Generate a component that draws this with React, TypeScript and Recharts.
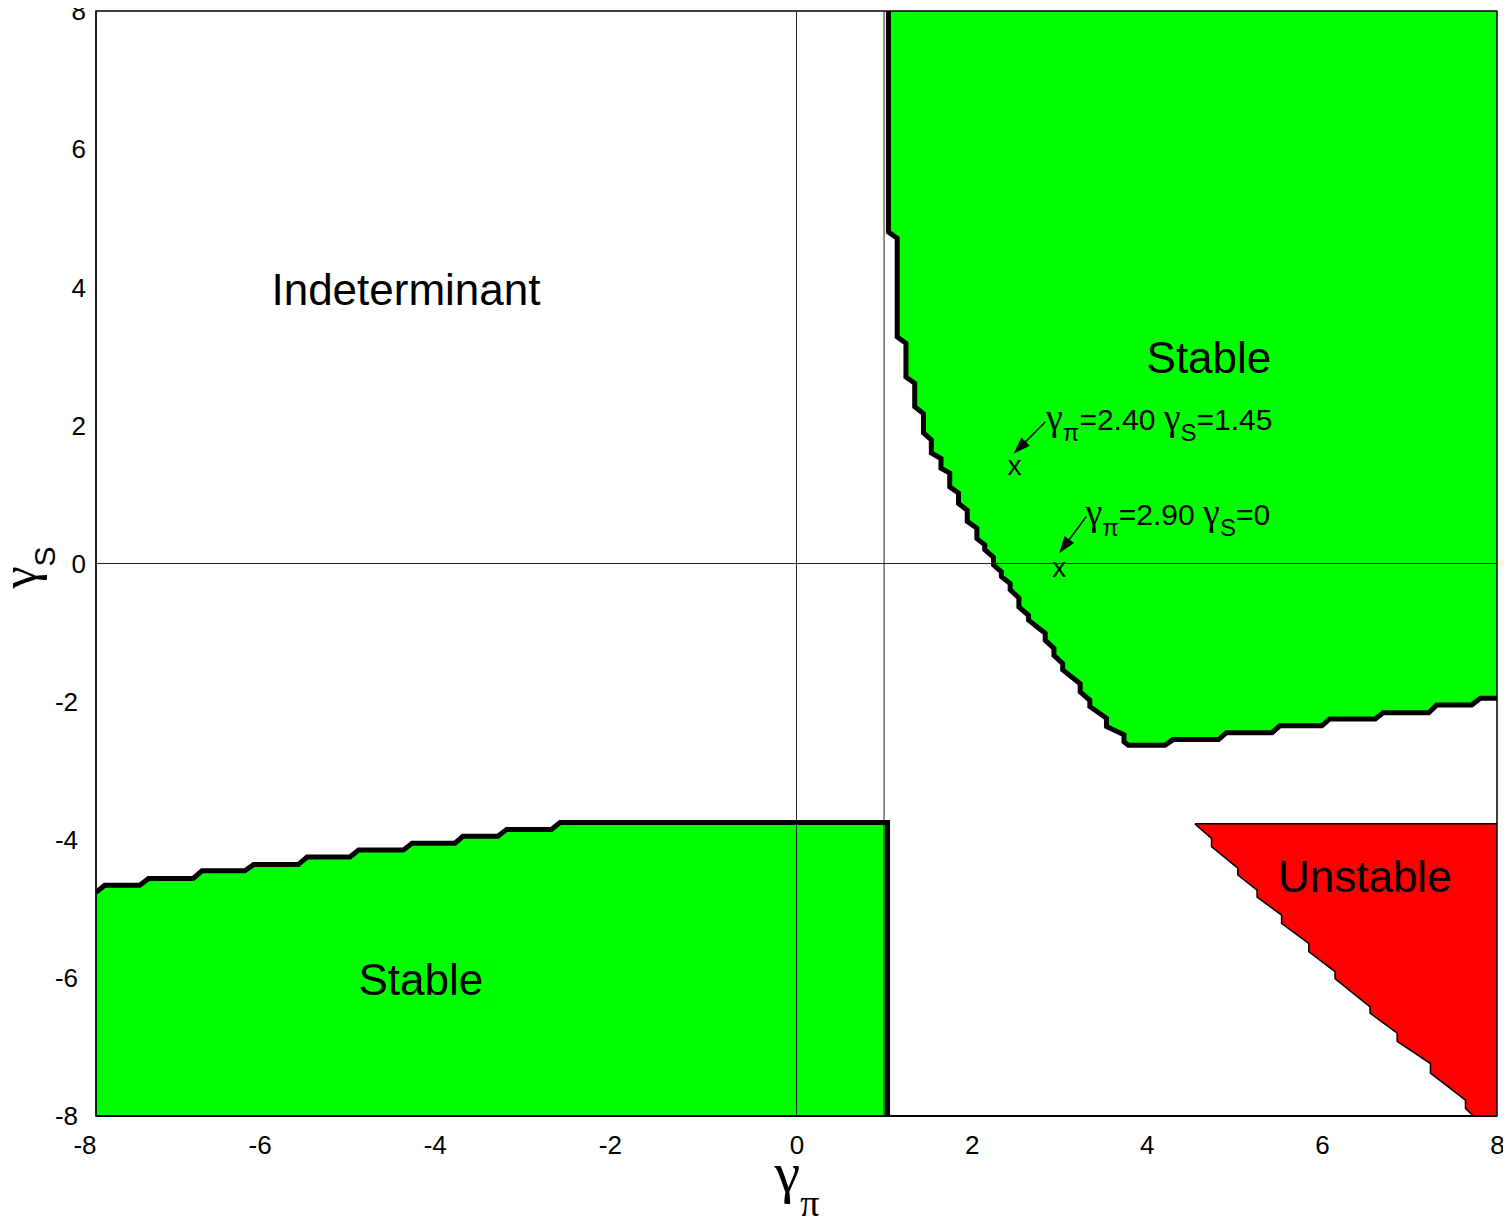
import React from "react";
import {
    ComposedChart,
    Area,
    Line,
    XAxis,
    YAxis,
    ReferenceLine,
    ReferenceDot,
    ReferenceArea
} from "recharts";

const axisTicks = [-8, -6, -4, -2, 0, 2, 4, 6, 8];

// upper right stable region: left / lower edge, [gamma_pi, gamma_S]
const upperStableEdge = [
    [1.05, 8], [1.05, 4.80], [1.15, 4.71], [1.15, 3.28], [1.25, 3.19], [1.25, 2.70],
    [1.35, 2.61], [1.35, 2.27], [1.45, 2.17], [1.45, 1.89], [1.54, 1.79], [1.54, 1.60],
    [1.65, 1.52], [1.65, 1.38], [1.75, 1.31], [1.75, 1.11], [1.85, 1.02], [1.85, 0.87],
    [1.95, 0.77], [1.95, 0.61], [2.06, 0.51], [2.06, 0.36], [2.15, 0.27], [2.15, 0.20],
    [2.25, 0.09], [2.25, -0.02], [2.34, -0.12], [2.34, -0.19], [2.44, -0.29], [2.44, -0.38],
    [2.54, -0.50], [2.54, -0.63], [2.65, -0.75], [2.65, -0.82], [2.84, -1.01], [2.84, -1.11],
    [2.94, -1.23], [2.94, -1.33], [3.04, -1.45], [3.04, -1.54], [3.24, -1.74], [3.24, -1.86],
    [3.35, -1.98], [3.35, -2.07], [3.54, -2.24], [3.54, -2.36], [3.74, -2.48], [3.74, -2.58],
    [3.79, -2.63], [4.21, -2.63], [4.30, -2.55], [4.82, -2.55], [4.91, -2.45], [5.43, -2.45],
    [5.52, -2.35], [6.00, -2.35], [6.09, -2.25], [6.61, -2.25], [6.70, -2.16], [7.22, -2.16],
    [7.31, -2.05], [7.71, -2.05], [7.81, -1.95], [8, -1.95]
];
const upperStableTop = 8;

// lower left stable region: upper edge
const lowerStableEdge = [
    [-8, -4.76], [-7.90, -4.66], [-7.50, -4.66], [-7.40, -4.56], [-6.89, -4.56], [-6.79, -4.45],
    [-6.30, -4.45], [-6.20, -4.36], [-5.69, -4.36], [-5.59, -4.25], [-5.10, -4.25], [-5.00, -4.15],
    [-4.49, -4.15], [-4.39, -4.05], [-3.90, -4.05], [-3.81, -3.95], [-3.41, -3.95], [-3.31, -3.85],
    [-2.80, -3.85], [-2.70, -3.75], [1.04, -3.75]
];
const lowerStableBottom = -8;

// unstable region: lower edge
const unstableEdge = [
    [4.55, -3.77], [4.74, -3.98], [4.74, -4.10], [5.04, -4.41], [5.04, -4.51], [5.26, -4.73],
    [5.26, -4.83], [5.54, -5.09], [5.54, -5.21], [5.85, -5.50], [5.85, -5.62], [6.15, -5.91],
    [6.15, -6.01], [6.55, -6.42], [6.55, -6.51], [6.86, -6.80], [6.86, -6.92], [7.24, -7.24],
    [7.24, -7.38], [7.64, -7.77], [7.64, -7.89], [7.73, -8], [8, -8]
];
const unstableTop = -3.77;

const guideX = [0, 1];
const guideY = [0];

const regionLabels = [
    {text: "Indeterminant", x: -4.46, y: 3.97},
    {text: "Stable", x: 4.71, y: 2.99},
    {text: "Stable", x: -4.29, y: -6.02},
    {text: "Unstable", x: 6.49, y: -4.53}
];

const pointMarks = [
    {x: 2.49, y: 1.42},
    {x: 3.0, y: -0.06}
];

const pointNotes = [
    {x: 2.85, y: 1.93, pi: "2.40", s: "1.45"},
    {x: 3.30, y: 0.56, pi: "2.90", s: "0"}
];

const noteArrows = [
    {x1: 2.84, y1: 2.05, x2: 2.48, y2: 1.59},
    {x1: 3.31, y1: 0.68, x2: 3.00, y2: 0.15}
];

const SANS = "'Liberation Sans', Arial, Helvetica, sans-serif";
const SERIF = "'Liberation Serif', 'Times New Roman', serif";

const rangeData = (edge: number[][], other: number) =>
    edge.map(([x, y]) => ({x, y, range: y < other ? [y, other] : [other, y]}));

const lineData = (edge: number[][]) => edge.map(([x, y]) => ({x, y}));

const Arrow = (props: any) => {
    const {x1, y1, x2, y2} = props;
    const dx = x2 - x1;
    const dy = y2 - y1;
    const len = Math.sqrt(dx * dx + dy * dy) || 1;
    const ux = dx / len;
    const uy = dy / len;
    const head = 17;
    const half = 6;
    const bx = x2 - ux * head;
    const by = y2 - uy * head;
    return (
        <g>
            <line x1={x1} y1={y1} x2={bx} y2={by} stroke="#000" strokeWidth={1.5}/>
            <polygon
                points={`${x2},${y2} ${bx - uy * half},${by + ux * half} ${bx + uy * half},${by - ux * half}`}
                fill="#000"
            />
        </g>
    );
};

// positive labels centred on the tick, negative ones end at the tick
const XTick = (props: any) => {
    const {x, y, payload} = props;
    const neg = payload.value < 0;
    return (
        <text x={x + 0.5} y={y} dy="0.72em" textAnchor={neg ? "end" : "middle"} fontSize={26}
              fontFamily={SANS} fill="#000">
            {payload.value}
        </text>
    );
};

const YTick = (props: any) => {
    const {x, y, payload} = props;
    return (
        <text x={x - (payload.value < 0 ? 8 : 0)} y={y} dy="0.36em" textAnchor="end" fontSize={26}
              fontFamily={SANS} fill="#000">
            {payload.value}
        </text>
    );
};

const XTitle = (props: any) => {
    const {viewBox} = props;
    const cx = viewBox.x + viewBox.width / 2;
    return (
        <text x={cx - 22} y={viewBox.y + 76} fill="#000">
            <tspan fontFamily={SERIF} fontSize={58}>γ</tspan>
            <tspan fontFamily={SERIF} fontSize={38} dy={24}>π</tspan>
        </text>
    );
};

const YTitle = (props: any) => {
    const {viewBox} = props;
    const cy = viewBox.y + viewBox.height / 2 + 4;
    const cx = 28;
    return (
        <text x={cx} y={cy} transform={`rotate(-90, ${cx}, ${cy})`} textAnchor="middle" fill="#000">
            <tspan fontFamily={SERIF} fontSize={50}>γ</tspan>
            <tspan fontFamily={SANS} fontSize={30} dy={19}>S</tspan>
        </text>
    );
};

const App = (): JSX.Element => {
    const lowerLine = [...lowerStableEdge, [lowerStableEdge[lowerStableEdge.length - 1][0], lowerStableBottom]];
    return (
        <div style={{width: 1500, height: 1218}}>
            <style>{".recharts-surface { overflow: visible; }"}</style>
            <ComposedChart
                width={1500}
                height={1218}
                margin={{top: 3, right: 11, bottom: 0, left: 0}}
            >
                <XAxis
                    type="number"
                    dataKey="x"
                    domain={[-8, 8]}
                    ticks={axisTicks}
                    interval={0}
                    allowDataOverflow
                    height={110}
                    tickLine={false}
                    tickSize={0}
                    tickMargin={19}
                    axisLine={{stroke: "#000", strokeWidth: 2}}
                    tick={XTick}
                    label={{content: XTitle}}
                />
                <YAxis
                    type="number"
                    domain={[-8, 8]}
                    ticks={axisTicks}
                    interval={0}
                    allowDataOverflow
                    width={88}
                    tickLine={false}
                    tickSize={0}
                    tickMargin={10}
                    axisLine={{stroke: "#000", strokeWidth: 1}}
                    tick={YTick}
                    label={{content: YTitle}}
                />
                <Area
                    data={rangeData(upperStableEdge, upperStableTop)}
                    dataKey="range"
                    type="linear"
                    fill="#00ff00"
                    fillOpacity={1}
                    stroke="none"
                    isAnimationActive={false}
                />
                <Area
                    data={rangeData(lowerStableEdge, lowerStableBottom)}
                    dataKey="range"
                    type="linear"
                    fill="#00ff00"
                    fillOpacity={1}
                    stroke="none"
                    isAnimationActive={false}
                />
                <Area
                    data={rangeData(unstableEdge, unstableTop)}
                    dataKey="range"
                    type="linear"
                    fill="#ff0000"
                    fillOpacity={1}
                    stroke="#000"
                    strokeWidth={1.5}
                    isAnimationActive={false}
                />
                {guideX.map((v) => (
                    <ReferenceLine key={`gx-${v}`} x={v} stroke="#222" strokeWidth={1}/>
                ))}
                {guideY.map((v) => (
                    <ReferenceLine key={`gy-${v}`} y={v} stroke="#222" strokeWidth={1}/>
                ))}
                <Line
                    data={lineData(upperStableEdge)}
                    dataKey="y"
                    type="linear"
                    stroke="#000"
                    strokeWidth={5}
                    dot={false}
                    isAnimationActive={false}
                />
                <Line
                    data={lineData(lowerLine)}
                    dataKey="y"
                    type="linear"
                    stroke="#000"
                    strokeWidth={5}
                    dot={false}
                    isAnimationActive={false}
                />
                {regionLabels.map((l, i) => (
                    <ReferenceDot
                        key={`rl-${i}`}
                        x={l.x}
                        y={l.y}
                        r={0}
                        shape={(p: any) => (
                            <text x={p.cx} y={p.cy} textAnchor="middle" dominantBaseline="central"
                                  fontSize={44} fontFamily={SANS} fill="#000">{l.text}</text>
                        )}
                    />
                ))}
                {pointMarks.map((m, i) => (
                    <ReferenceDot
                        key={`pm-${i}`}
                        x={m.x}
                        y={m.y}
                        r={0}
                        shape={(p: any) => (
                            <text x={p.cx} y={p.cy} textAnchor="middle" dominantBaseline="central"
                                  fontSize={28} fontFamily={SANS} fill="#000">x</text>
                        )}
                    />
                ))}
                {pointNotes.map((n, i) => (
                    <ReferenceDot
                        key={`pn-${i}`}
                        x={n.x}
                        y={n.y}
                        r={0}
                        shape={(p: any) => (
                            <text x={p.cx} y={p.cy} fontSize={30} fontFamily={SANS} fill="#000">
                                <tspan fontFamily={SERIF} fontSize={38}>γ</tspan>
                                <tspan fontSize={24} dy={11}>π</tspan>
                                <tspan dy={-11}>={n.pi} </tspan>
                                <tspan fontFamily={SERIF} fontSize={38}>γ</tspan>
                                <tspan fontSize={24} dy={11}>S</tspan>
                                <tspan dy={-11}>={n.s}</tspan>
                            </text>
                        )}
                    />
                ))}
                {noteArrows.map((a, i) => (
                    <ReferenceLine
                        key={`na-${i}`}
                        segment={[{x: a.x1, y: a.y1}, {x: a.x2, y: a.y2}]}
                        stroke="#000"
                        shape={Arrow}
                    />
                ))}
                <ReferenceArea x1={-8} x2={8} y1={-8} y2={8} fill="none" stroke="#000" strokeWidth={1.5}/>
            </ComposedChart>
        </div>
    );
};

export default App;
